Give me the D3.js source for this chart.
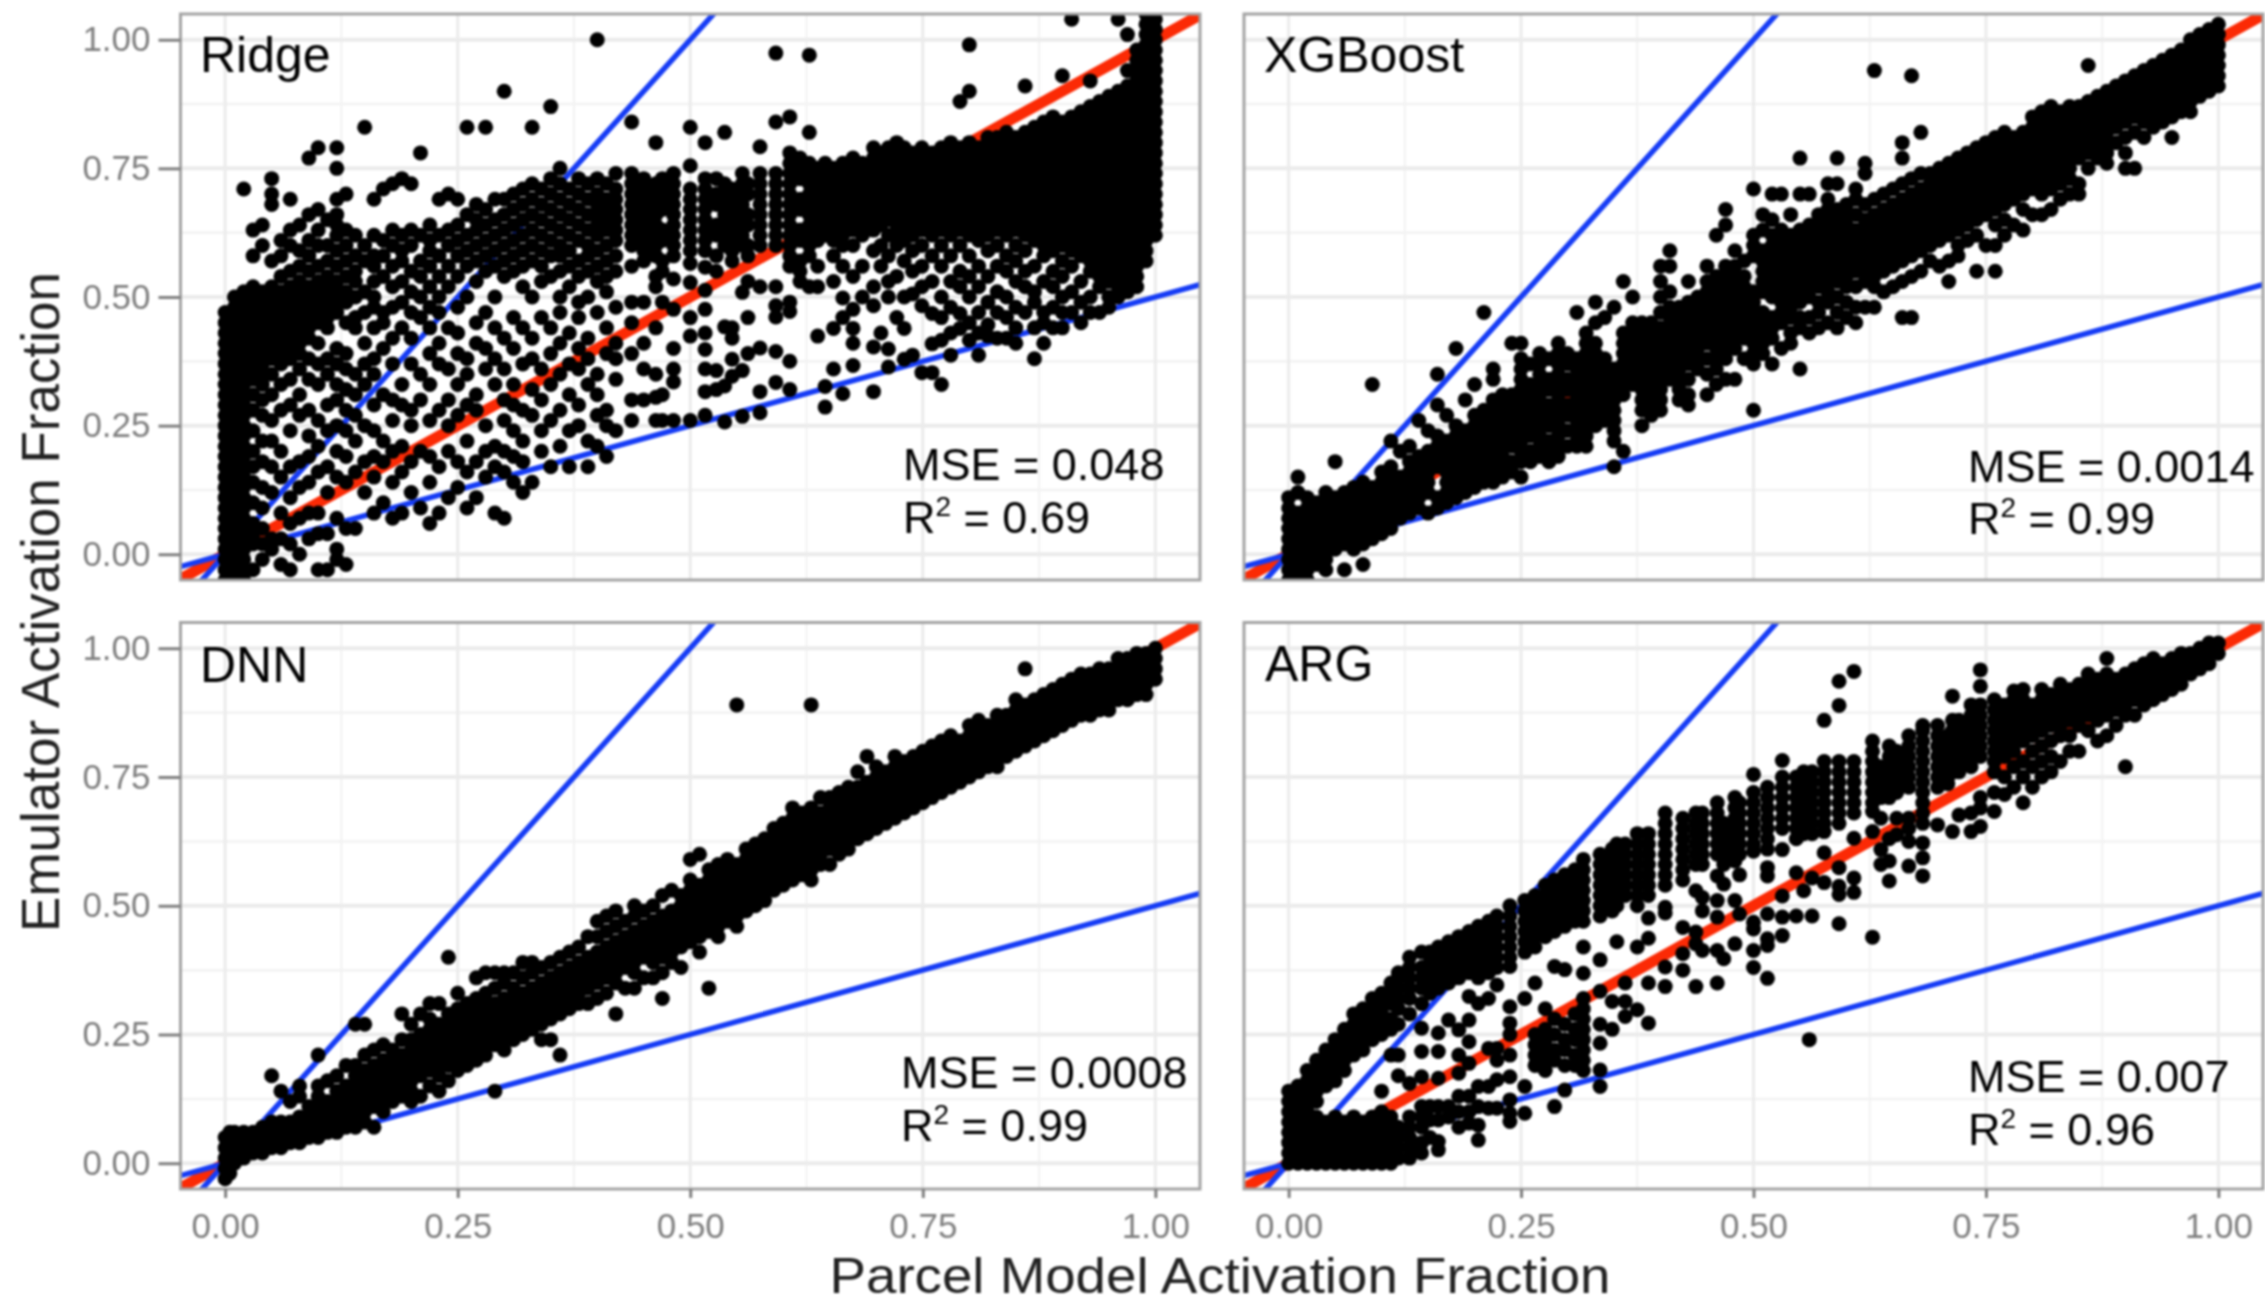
<!DOCTYPE html>
<html>
<head>
<meta charset="utf-8">
<script src="https://cdn.jsdelivr.net/npm/d3@7"></script>
<style>
  html, body { margin: 0; padding: 0; background: #fff; }
  svg { display: block; filter: blur(0.9px); }
  text { font-family: "Liberation Sans", Arial, sans-serif; }
</style>
</head>
<body>
<svg id="chart" width="2265" height="1304"></svg>
<script>
// values, each row is [x, y, y, y...] in hundredths of activation fraction
const ridgeCols = [
[0,-5,-3,-1,1,3,5,7,9,11,13,15,17,19,21,23,25,27,29,31,33,35,37,39,41,43,45,47],
[1,-4,-2,0,2,4,6,8,10,12,14,16,18,20,22,24,26,28,30,32,34,36,38,40,42,44,46,48,50],
[2,-5,-3,-1,1,3,5,7,9,11,13,15,17,19,21,23,25,27,29,31,33,35,37,39,41,43,45,47,49,51,71],
[3,-3,2,4,6,10,14,17,20,24,28,31,34,36,38,40,42,44,46,48,50,52,63,58],
[4,-1,2,5,9,13,18,22,27,30,33,35,37,39,41,43,45,47,49,51,60,64],
[5,1,3,12,17,22,26,31,35,38,40,42,44,46,48,50,52,57,73,70,68],
[6,-2,3,8,15,20,28,33,37,39,41,43,45,47,49,51,54,58,61],
[7,-3,2,6,11,17,24,29,34,38,40,42,44,46,48,50,52,55,60,63,69],
[8,0,7,13,18,27,31,36,39,41,43,45,47,49,51,53,56,59,64],
[9,3,8,14,19,23,28,34,38,42,44,46,48,50,52,55,58,61,66,77],
[10,-3,4,8,16,21,26,33,37,41,45,47,49,51,53,56,60,63,67,79],
[11,-3,4,12,17,24,29,35,38,44,46,48,50,52,54,57,60,65],
[12,-1,1,7,15,20,25,30,33,37,40,47,49,51,53,56,59,62,64,66,69,75,79],
[13,-2,5,14,19,24,28,32,36,39,45,49,51,54,57,60,63,70],
[14,5,16,22,27,31,35,44,46,50,53,55,58,62],
[15,12,18,25,33,37,41,47,51,57,60,83],
[16,8,15,19,24,29,35,38,44,48,50,53,56,58,62,69],
[17,10,18,22,31,40,45,47,54,58,61,71],
[18,7,14,20,26,30,37,42,48,52,56,60,63,72],
[19,8,16,21,29,33,44,49,53,57,59,62,73],
[20,12,18,25,28,37,42,47,51,55,60,63,72],
[21,9,20,30,35,46,50,54,57,62,78],
[22,6,14,19,26,33,39,44,48,52,56,59,61,64],
[23,8,17,28,37,41,47,50,54,58,62,69],
[24,11,20,25,30,36,44,52,56,60,63,70],
[25,13,18,27,33,39,43,48,54,58,61,64,69],
[26,9,16,22,29,35,38,50,56,59,62,66,83],
[27,11,18,28,31,41,45,53,57,60,63,65,68],
[28,15,20,25,36,40,47,55,58,61,64,67,83],
[29,8,17,21,33,38,44,50,56,59,62,65,69],
[30,7,16,20,26,30,36,42,54,57,60,63,66,69,90],
[31,14,19,24,29,33,40,46,55,58,61,64,67,70],
[32,12,18,22,28,37,44,52,56,59,62,65,68,71],
[33,14,27,32,38,42,50,57,60,63,66,69,72,83],
[34,20,24,30,36,46,53,56,59,62,65,68,71],
[35,17,26,33,39,44,54,58,61,64,67,70,73,87],
[36,21,28,35,41,47,50,55,58,60,63,66,69,72,75],
[37,17,24,31,37,43,52,56,59,62,65,68,71],
[38,25,29,36,40,46,49,54,57,61,64,67,70,73],
[39,17,22,33,38,42,50,55,58,60,63,66,69,72],
[40,21,27,31,35,47,53,56,59,62,64,66,68,70,73,100],
[41,19,25,28,39,44,51,54,57,60,63,65,67,69,72],
[42,24,34,38,41,48,55,58,61,63,65,67,69,71,74],
[43.7,26,30,39,45,49,56,60,62,64,66,68,70,72,74,84],
[45,30,36,41,49,57,59,61,63,65,67,69,71,73],
[46.3,26,30.5,35,44,52,54,58,60,62,64,66,68,70,72,80],
[47,26,31,49,55,57,61,63,67,69,71,73],
[48.2,26,33.5,36,40,47.6,53.5,58,60,62,64,66,68,70,72,74],
[50,26,42.4,46,52.8,56.5,59,61,63,65,67,69,71,75.5,83],
[51.6,27,31.6,36,39.8,43,47.6,51.3,55.8,59,61,63,65,67,69,71,73,80],
[52.8,32,35.7,55,58,62,64,68,70,73],
[53.7,25.7,32.7,44.2,60,62,64,66,68,70,72,82],
[54.5,34.6,37.9,42,44,57,59,61,63,65,67,69,71],
[55.6,26.8,35.7,50.9,60,62,64,66,68,70,72,74],
[56.2,39,46,53,58,60,64,66,70,72],
[57.5,27.5,31.6,40.1,52,60,62,64,66,68,70,72,74,79.2],
[59.2,33.4,39.4,46.1,48.3,52,60,62,64,66,68,70,72,74,84,97.4],
[60.7,32,37.5,47.2,49,56,58,60,62,64,66,68,70,72,74,76,78,85],
[61.8,53,55,57,61,63,67,69,73,75,77],
[62.8,52,58,60,62,64,66,68,70,72,74,76,82,97],
[63.7,42.4,52,56,61,63,65,67,69,71,73,75],
[64.5,28.6,32.6,62,64,66,68,70,72,74,76],
[65.4,36,43.9,53,58,61,63,65,67,69,71,73,75],
[66.4,31.2,46,49.8,56,60,62,64,66,68,70,72,74,76],
[67.5,36.7,41,43.9,47.6,54,60,63,65,67,69,71,73,75,77],
[68.5,50,56,62,64,66,68,70,72,74,76],
[69.7,31.6,40.3,48.3,52,59,63,65,67,69,71,73,75,77,79],
[70.5,43,56,60,64,66,68,70,72,74,76,78],
[71.3,36.4,39.9,50,53,58,62,65,67,69,71,73,75,77,79],
[72.2,46,54,60,62,64,66,68,70,72,74,76,78,80],
[73,37.9,43.9,50,57,61,63,65,67,69,71,73,75,77,79],
[73.9,38.7,50.6,55,59,62,64,66,68,70,72,74,76,78],
[74.9,35.3,48.3,52,56,60,63,65,67,69,71,73,75,77,79],
[76,35.3,40.9,46.8,53,58,62,64,66,68,70,72,74,76,78],
[77,33,41.6,46,50,56,60,63,65,67,69,71,73,75,77,79],
[78,38.7,43,48,53,58,62,64,66,68,70,72,74,76,78,80],
[79,43.9,46.8,52,55,60,63,65,67,69,71,73,75,77,79,88],
[80,41.6,45,50,54,58,62,64,66,68,70,72,74,76,78,80,90,99],
[81,38.7,43,47,52,56,61,63,65,67,69,71,73,75,77,79],
[82,42.4,44.6,49,54,59,62,64,66,68,70,72,74,76,78,80,81],
[83,42,47,51,56,60,63,65,67,69,71,73,75,77,79,81],
[84,42,46,50,55,58,62,64,66,68,70,72,74,76,78,80,82],
[85,41,44,48,53,57,60,63,65,67,69,71,73,75,77,79,81],
[86,47,52,55,59,62,64,66,68,70,72,74,76,78,80,82,91],
[87,38,44,49,51,56,61,63,65,67,69,71,73,75,77,79,81,83],
[88,41,45,47,53,58,60,62,64,66,68,70,72,74,76,78,80,82,84],
[89,44,48,52,55,59,61,63,65,67,69,71,73,75,77,79,81,83,85],
[90,44,47,50,54,57,60,62,64,66,68,70,72,74,76,78,80,82,84,93],
[91,47,51,56,59,61,63,65,67,69,71,73,75,77,79,81,83,85,104],
[92,45,49,53,58,60,62,64,66,68,70,72,74,76,78,80,82,84,86],
[93,47,50,55,57,59,61,63,65,67,69,71,73,75,77,79,81,83,85,87,92],
[94,47,52,54,56,58,60,62,64,66,68,70,72,74,76,78,80,82,84,86,88],
[95,48,50,53,55,57,59,61,63,65,67,69,71,73,75,77,79,81,83,85,87,89],
[96,50,52,54,56,58,60,62,64,66,68,70,72,74,76,78,80,82,84,86,88,90,104],
[97,51,53,55,57,59,61,63,65,67,69,71,73,75,77,79,81,83,85,87,89,91,94,101],
[98,52,54,56,58,60,62,64,66,68,70,72,74,76,78,80,82,84,86,88,90,92,94,96,98],
[99,57,59,61,63,65,67,69,71,73,75,77,79,81,83,85,87,89,91,93,95,97,99,101,103,105],
[100,62,64,66,68,70,72,74,76,78,80,82,84,86,88,90,92,94,96,98,100,102,104,106]
];

const xgboostCols = [
[0,-5,-3,-1,1,3,5,7,9,11],
[1,-4,-2,0,2,4,6,8,15,12],
[2,-5,-3,-1,1,3,5,7,9,11],
[3,-2,0,2,4,6,8,10],
[4,-3,-1,1,3,5,7,9,11,12],
[5,1,3,5,7,9,11,18],
[6,2,4,6,8,10,12,-3],
[7,1,3,5,7,9,11,13],
[8,2,4,6,8,10,12,14,-2],
[9,3,5,7,9,11,13,33],
[10,4,6,8,10,12,14,16],
[11,5,7,9,11,13,15,17,22],
[12,7,9,11,13,15,20],
[13,8,10,12,14,16,18,21],
[14,9,11,13,15,17,19,26],
[15,8,12,14,16,18,20,24],
[16,9,11,17,19,21,23,29,35],
[17,10,12,14,16,18,20,22,27],
[18,11,13,15,17,19,21,23,25,40],
[19,12,14,16,18,20,22,24,30],
[20,13,15,17,19,21,23,25,27,33],
[21,14,16,18,20,22,24,26,28,47],
[22,14,16,18,20,22,24,26,28,30,34,36],
[23,15,17,19,21,23,25,27,29,31],
[24,16,18,21,23,25,27,29,31,41],
[25,15,18,20,22,24,26,28,30,32,34,36,41,38],
[26,18,20,23,25,27,29,31,33,37],
[27,19,21,23,25,27,29,31,33,35,37,39],
[28,18,20,22,25,27,29,32,34,38],
[29,19,21,23,25,27,29,31,33,35,37,39,41],
[30,21,24,27,29,32,34,37,39],
[31,21,22,24,26,28,30,32,34,36,38,47],
[32,21,23,25,27,29,31,33,35,37,39,41,43],
[33,25,27,29,31,33,35,37,39,41,45,49],
[34,26,28,30,32,34,36,38,46],
[35,17,22,24,26,28,30,32,34,36,48],
[36,20,31,33,35,37,39,41,43,53],
[37,33,35,37,39,41,43,45,50],
[38,25,28,30,32,34,36,38,40,42,44,45],
[39,27,29,31,33,35,37,39,41,43,45],
[40,28,30,32,34,36,38,40,42,44,47,50,53,56],
[41,34,36,38,40,42,44,46,48,51,56,59],
[42,30,32,34,36,38,40,42,44,46,48],
[43,29,31,34,37,39,41,43,45,47,49,53],
[44,36,38,40,42,44,46,48,50],
[45,31,35,38,41,43,45,47,49,51,53,56],
[46,33,36,38,40,42,44,46,48,50,52,54,62],
[47,34,38,40,42,44,46,48,50,52,54,56,64,67],
[48,34,40,42,44,46,48,50,52,54,56,59],
[49,38,42,44,46,48,50,52,54,57],
[50,28,37,39,41,43,45,47,49,51,58,60,62,71],
[51,39,41,43,45,47,51,53,55,57,59,63,66],
[52,37,42,44,46,50,52,54,56,58,60,62,65,70],
[53,40,45,47,49,51,53,55,57,59,61,63,70],
[54,41,43,46,48,50,52,54,56,58,60,62,66],
[55,36,44,46,49,51,53,55,57,59,61,63,70,77],
[56,43,46,50,52,54,56,58,60,62,64,70],
[57,44,47,49,52,54,56,58,60,62,64,66],
[58,45,49,51,53,55,57,59,61,63,65,67,69,72],
[59,44,47,50,53,55,57,59,61,63,65,67,72,77],
[60,46,49,52,54,56,58,60,62,64,66,68],
[61,45,48,52,55,57,59,61,63,66,69,71],
[62,48,53,55,57,59,61,63,65,68,76,74],
[63,48,52,54,56,58,60,62,64,66,69,94],
[64,51,55,57,59,61,63,65,67,70],
[65,52,56,58,60,62,64,66,68,71],
[66,46,53,57,59,61,63,65,67,69,72,77,80],
[67,46,54,58,60,62,64,66,68,70,73,93],
[68,55,59,61,63,65,67,69,71,74,82],
[69,57,60,62,64,66,68,70,72,74],
[70,56,61,63,65,67,69,71,73,75],
[71,53,57,62,64,66,68,70,72,74,76],
[72,58,60,63,65,67,69,71,73,75,77],
[73,61,64,66,68,70,72,74,76,78],
[74,55,62,65,67,69,71,73,75,77,79],
[75,60,66,68,70,72,74,76,78,80],
[76,55,60,64,67,69,71,73,75,77,79,81],
[77,62,65,68,70,72,74,76,78,80,82],
[78,64,69,71,73,75,77,79,81],
[79,63,67,70,72,74,76,78,80,82],
[80,66,71,73,75,77,79,81,83,85],
[81,66,70,72,74,76,78,80,82,84,86],
[82,67,71,73,75,77,79,81,83,85,87],
[83,69,72,74,76,78,80,82,84,86],
[84,70,73,75,77,79,81,83,85,87],
[85,70,72,77,79,81,83,85,87],
[86,75,78,80,82,84,86,88,95],
[87,77,79,81,83,85,87,89],
[88,76,78,80,82,84,86,88,90],
[89,80,83,85,87,89,91],
[90,75,78,81,84,86,88,90,92],
[91,75,82,85,87,89,91,93],
[92,81,84,86,88,90,92,94],
[93,83,85,87,89,91,93,95],
[94,84,86,88,90,92,94,96],
[95,81,85,87,89,91,93,95,97],
[96,86,88,90,92,94,96,98],
[97,86,88,90,92,94,96,98,100],
[98,89,91,93,95,97,99,101],
[99,90,92,94,96,98,100,102],
[100,91,93,95,97,99,101,103]
];

const dnnCols = [
[0,-3,-1,1,3,5],
[0.5,-2,0,2,4,6],
[1,0,2,4,6],
[2,1,3,5,6],
[3,2,4,6],
[4,2,4,6,7],
[5,3,5,7,8,17],
[6,3,5,7,8,14],
[7,4,6,8,12],
[8,4,6,8,9,13,15],
[9,5,7,9,11],
[10,5,7,9,11,13,15,21],
[11,6,8,10,12,16],
[12,6,8,10,12,14,17],
[13,7,9,11,13,15,19],
[14,7,9,11,13,15,17,19,27],
[15,8,10,12,14,16,18,21,27],
[16,7,11,13,15,17,19,22],
[17,10,12,14,16,18,20,23],
[18,12,14,16,18,20,22],
[19,13,15,17,19,21,24,29],
[20,12,14,16,18,20,22,24,27],
[21,13,17,19,21,23,25,29],
[22,15,18,20,22,24,26,28,31],
[23,14,17,19,21,23,25,27,31],
[24,16,19,21,23,25,27,29,40],
[25,18,20,22,24,26,28,30,33],
[26,19,21,23,25,27,29,31],
[27,20,22,24,26,28,30,32,36],
[28,21,23,25,27,29,31,33,37],
[29,14,23,25,27,29,31,34,37],
[30,22,24,26,28,30,32,35,37],
[31,24,26,28,30,32,34,37],
[32,25,27,29,31,33,36,39],
[33,26,28,30,32,34,37,39],
[34,24,27,29,31,33,35,38],
[35,24,28,30,32,34,36,39],
[36,21,29,31,33,35,37,40],
[37,30,32,34,36,38,41],
[38,31,33,35,37,39,42],
[39,31,34,36,38,40,44],
[40,32,35,37,39,41,44,47],
[41,33,36,38,40,42,45,48],
[42,29,35,37,39,41,43,46,49],
[43,34,38,40,42,44,47],
[44,34,37,39,41,43,45,48,50],
[45,36,40,42,44,46,49],
[46,36,39,41,43,45,47,50],
[47,32,37,40,42,44,46,48,52],
[48,39,41,43,45,47,49,53],
[49,38,42,44,46,48,50,52],
[50,43,45,47,49,51,53,55,59],
[51,41,44,46,48,50,52,54,60],
[52,34,45,47,49,51,53,55,57],
[53,44,46,48,50,52,54,56,58],
[54,47,49,51,53,55,57,59],
[55,46,48,50,52,54,56,58,89],
[56,49,51,53,55,57,59,61],
[57,50,52,54,56,58,60,62],
[58,51,53,55,57,59,61,63],
[59,53,55,57,59,61,63,65],
[60,54,56,58,60,62,64,66],
[61,55,57,59,61,63,65,67,69],
[62,56,58,60,62,64,66,68],
[63,55,57,59,61,63,65,67,69,89],
[64,58,60,62,64,66,68,71],
[65,58,61,63,65,67,69,71],
[66,60,62,64,66,68,70,72],
[67,61,63,65,67,69,71,73],
[68,63,65,67,69,71,73,76],
[69,64,66,68,70,72,74,79],
[70,65,67,69,71,73,75,77],
[71,66,68,70,72,74,76],
[72,67,69,71,73,75,77,79],
[73,68,70,72,74,76,78],
[74,69,71,73,75,77,79],
[75,70,72,74,76,78,80],
[76,71,73,75,77,79,81],
[77,72,74,76,78,80,82],
[78,73,75,77,79,81,83],
[79,74,76,78,80,82],
[80,75,77,79,81,83,85],
[81,76,78,80,82,84,86],
[82,77,79,81,83,85],
[83,77,79,81,83,85,87],
[84,79,81,83,85,87],
[85,80,82,84,86,88,90],
[86,81,83,85,87,89,96],
[87,82,84,86,88,90],
[88,83,85,87,89,91],
[89,84,86,88,90,92],
[90,85,87,89,91,93],
[91,86,88,90,92,94],
[92,87,89,91,93,95],
[93,87,89,91,93,95],
[94,88,90,92,94,96],
[95,88,90,92,94,96],
[96,90,92,94,96,98],
[97,90,92,94,96,98],
[98,91,93,95,97,99],
[99,91,93,95,97,99],
[100,94,96,98,100]
];

const argCols = [
[0,0,2,4,6,8,10,12,14],
[1,0,1,3,5,7,9,11,13,15],
[2,0,2,4,6,8,10,12,14,16,18],
[3,0,1,3,5,7,9,12,14,16,18,20],
[4,0,2,4,6,8,15,17,19,21,22],
[5,0,1,3,5,7,9,16,18,20,22,24],
[6,0,2,4,6,8,18,20,22,24,26],
[7,0,1,3,5,7,9,21,23,25,27,29],
[8,0,2,4,6,8,22,24,26,28,30],
[9,0,1,3,5,7,9,24,26,28,30,32],
[10,0,2,4,6,8,10,14,25,27,29,31,33],
[11,0,1,3,5,7,9,21,26,28,31,33,35],
[11.8,1,3,5,7,17,21,27,30,32,34,36,37],
[13,1,3,5,7,9,15.5,29,32,34,36,38,40],
[14.3,2,4,7,9,11,16.8,21.7,26.2,31,34,36,38,41],
[15.2,5,8.4,11,33,35,37,39,41],
[16.1,2.6,4.2,8.4,11,16.5,21.7,25.3,34,36,38,40,42],
[17.2,9,11,27.8,35,37,39,41,43],
[18.3,7,10,13,17.5,21,25.9,36,38,40,42,44],
[19.4,7.8,10,13,19.4,23.6,27.8,32.4,37,39,41,43,45],
[20.4,4.5,7.4,11,14.9,31,36,38,40,42,44,46],
[21.5,10.7,14.9,22.3,32,37,39,41,43,45,47],
[22.4,10.7,16.2,20,22.3,34.6,38,40,42,44,46,48],
[23.8,8.1,9.7,12.3,16.8,21,25,27.2,30.4,38.2,40,42,44,46,48,50],
[25.4,9.7,14.9,32,41,43,45,47,49,51],
[26.5,19,21,23,25,35,42,44,46,48,50,52],
[27.6,18,20,22,24,26,30,44,46,48,50,52,54],
[28.6,11,20,22,25,28,38.2,45,47,49,51,53,55],
[29.7,14.2,19,22,24,27,37.6,46,48,50,52,54,56],
[30.8,19,21,24,26,29,47,49,51,53,55,57],
[31.7,18,20,22,24,26,28,30,32,36.9,42,47,49,51,53,55,57,59],
[33.5,14.9,18.1,23.3,27,33.4,39.5,48,50,52,54,56,58,60],
[34.8,26,31.4,49,51,53,55,57,59,61],
[35.3,43,50,52,54,56,58,60,62],
[36.2,28.5,31.4,35,52,54,56,58,60,62],
[37.5,29.8,42,50,52,54,56,58,60,62,64],
[38.7,27.2,35,43.7,47.6,52,54,56,58,60,62,64],
[40.5,34.3,38.1,48.6,49.7,54,56,58,60,62,64,66,68],
[42.4,37.5,40.7,45.8,55,57,59,61,63,65,67],
[43.8,34.3,42.6,44.9,52.9,58,60,62,64,66,68],
[44.5,41.3,49,51.6,58,60,62,64,66,68],
[46.1,35,41.3,47.8,51,55.8,60,62,64,66,68,70],
[46.8,39.7,54.2,58,60,62,64,66],
[48,42.6,51,58.7,61,63,65,67,69,71],
[48.5,48.4,56,60,62,64,66,68,70],
[50,38,41.3,45.5,46.8,60.6,62,64,66,68,70,72,75.5],
[51.5,35.9,42.3,43.6,48.4,55.8,57.4,61,63,65,67,69,71,73],
[53.1,44.2,47.8,51.9,60.9,65,67,69,71,73,75,78.2],
[54.6,48,56.4,63,65,67,69,71,73,75],
[55.4,52.9,64,66,68,70,72,74,76],
[56.3,48,55.4,64,66,68,70,72,74,76],
[57.6,54.5,60.3,64.4,66,68,70,72,74,76,78,86],
[59.2,46.5,52.2,53.8,57.4,66,68,70,72,74,76,78,88.9,93.6],
[60.8,52.6,55.4,63.1,68,70,72,74,76,78,95.5],
[62.8,43.9,64.4,68.3,70,72,74,76,78,80,82],
[63.7,58,60.9,67,71,73,75,77],
[64.6,54.8,58.7,63,71,73,75,77,79,81],
[65.4,63.8,67,72,74,76,78,80],
[66.7,57.7,62.5,65,67,73,75,77,79,81,83],
[68.2,55.8,59.3,62.2,66,68,70,72,74,76,78,80,82,84,85],
[69.8,65.7,73,75,77,79,81,83,85],
[70.9,73.7,75,77,79,81,83],
[71.4,64.4,76,78,80,82,84,86,90.7],
[72.1,67.6,76,78,80,82,84,86],
[73.4,64.4,68,77,79,81,83,85,87,89],
[74.4,65.4,69,71,79,81,83,85,87,89,92.6,95.8],
[75.9,68.3,72,76,78,80,82,84,86,88,90],
[77,71.6,75,79,81,83,85,87,89],
[78,73,77,80,82,84,86,88,90,91.7],
[79,70,75,78,82,84,86,88,90,92],
[80,73,77,80,83,85,87,89],
[81,75,78,81,84,86,88,90,92],
[82,76,79,82,85,87,89,91],
[83,78,83,85,87,89,91,93],
[84,80,83,86,88,90,92],
[85,80,85,87,89,91,93],
[86,84,87,89,91,93,95],
[87,82,86,88,90,92,94],
[88,83,87,89,91,93,95,98],
[89,85,88,90,92,94],
[90,77,87,89,91,93,95],
[91,87,90,92,94,96],
[92,89,91,93,95,97],
[93,90,92,94,96,98],
[94,91,93,95,97],
[95,92,94,96,98],
[96,93,95,97,99],
[97,95,97,99],
[98,96,98,100],
[99,97,99,101],
[100,99,101],
[56,24]
];

const panelNames = ["Ridge", "XGBoost", "DNN", "ARG"];
const panelCols = [ridgeCols, xgboostCols, dnnCols, argCols];
const mseLabels = ["MSE = 0.048", "MSE = 0.0014", "MSE = 0.0008", "MSE = 0.007"];
const r2Labels = ["0.69", "0.99", "0.99", "0.96"];
const tickVals = [0, 0.25, 0.5, 0.75, 1];
const minorVals = [0.125, 0.375, 0.625, 0.875];
const refSlopes = [1, 2, 0.5];
const refColors = ["#fb2a05", "#163cf5", "#163cf5"];
const refWidths = [11, 5.5, 5.5];

// panel boxes in page pixels, [left, right, top, bottom]
const boxes = [
  [180.5, 1200, 14, 580],
  [1244, 2263, 14, 580],
  [180.5, 1200, 622.5, 1189],
  [1244, 2263, 622.5, 1189]
];
// where the MSE and R2 texts sit: [x, mse baseline, r2 baseline, title baseline, title x]
const labelPos = [
  [903, 480, 533, 72, 200],
  [1968, 482, 534, 72, 1264],
  [901, 1088, 1141, 682, 200],
  [1968, 1092, 1145, 681, 1265]
];

const xDomain = [-0.048, 1.048];
const yDomain = [-0.05, 1.05];

const svg = d3.select("#chart");

panelNames.forEach(function(name, i) {
  const b = boxes[i];
  const x = d3.scaleLinear().domain(xDomain).range([b[0], b[1]]);
  const y = d3.scaleLinear().domain(yDomain).range([b[3], b[2]]);

  const points = panelCols[i].flatMap(c => c.slice(1).map(v => ({ x: c[0] / 100, y: v / 100 })));

  svg.append("clipPath").attr("id", "clip" + i).append("rect")
    .attr("x", b[0]).attr("y", b[2]).attr("width", b[1] - b[0]).attr("height", b[3] - b[2]);

  const g = svg.append("g");
  const inner = g.append("g").attr("clip-path", "url(#clip" + i + ")");

  // grid
  inner.selectAll(".minx").data(minorVals).join("line")
    .attr("x1", d => x(d)).attr("x2", d => x(d)).attr("y1", b[2]).attr("y2", b[3])
    .attr("stroke", "#f2f2f2").attr("stroke-width", 2);
  inner.selectAll(".miny").data(minorVals).join("line")
    .attr("x1", b[0]).attr("x2", b[1]).attr("y1", d => y(d)).attr("y2", d => y(d))
    .attr("stroke", "#f2f2f2").attr("stroke-width", 2.5);
  inner.selectAll(".majx").data(tickVals).join("line")
    .attr("x1", d => x(d)).attr("x2", d => x(d)).attr("y1", b[2]).attr("y2", b[3])
    .attr("stroke", "#ebebeb").attr("stroke-width", 3);
  inner.selectAll(".majy").data(tickVals).join("line")
    .attr("x1", b[0]).attr("x2", b[1]).attr("y1", d => y(d)).attr("y2", d => y(d))
    .attr("stroke", "#ebebeb").attr("stroke-width", 4);

  // reference lines y = x, y = 2x, y = x/2
  refSlopes.forEach(function(s, k) {
    const line = d3.line().x(d => x(d)).y(d => y(d * s));
    inner.append("path").datum(xDomain)
      .attr("d", line).attr("fill", "none")
      .attr("stroke", refColors[k]).attr("stroke-width", refWidths[k]);
  });

  inner.selectAll("circle").data(points).join("circle")
    .attr("cx", d => x(d.x)).attr("cy", d => y(d.y)).attr("r", 7.5).attr("fill", "#000");

  g.append("rect").attr("x", b[0]).attr("y", b[2]).attr("width", b[1] - b[0]).attr("height", b[3] - b[2])
    .attr("fill", "none").attr("stroke", "#a3a3a3").attr("stroke-width", 3);

  // axes only on the outer sides
  if (i % 2 === 0) {
    const ax = g.append("g").attr("transform", "translate(" + b[0] + ",0)")
      .call(d3.axisLeft(y).tickValues(tickVals).tickFormat(d3.format(".2f")).tickSize(22).tickPadding(8));
    ax.select(".domain").remove();
    ax.selectAll("line").attr("stroke", "#7f7f7f").attr("stroke-width", 3);
    ax.selectAll("text").attr("fill", "#7f7f7f").attr("font-size", 35).attr("font-family", "Liberation Sans");
  }
  if (i >= 2) {
    const ax = g.append("g").attr("transform", "translate(0," + b[3] + ")")
      .call(d3.axisBottom(x).tickValues(tickVals).tickFormat(d3.format(".2f")).tickSize(9).tickPadding(15));
    ax.select(".domain").remove();
    ax.selectAll("line").attr("stroke", "#7f7f7f").attr("stroke-width", 3);
    ax.selectAll("text").attr("fill", "#7f7f7f").attr("font-size", 35).attr("font-family", "Liberation Sans");
  }

  const lp = labelPos[i];
  g.append("text").attr("x", lp[4]).attr("y", lp[3]).attr("font-size", 50).attr("fill", "#000").text(name);
  g.append("text").attr("x", lp[0]).attr("y", lp[1]).attr("font-size", 45).attr("fill", "#000").text(mseLabels[i]);
  const r2 = g.append("text").attr("x", lp[0]).attr("y", lp[2]).attr("font-size", 45).attr("fill", "#000");
  r2.append("tspan").text("R");
  r2.append("tspan").attr("font-size", 28).attr("dy", -17).text("2");
  r2.append("tspan").attr("dy", 17).text(" = " + r2Labels[i]);
});

svg.append("text").attr("x", 1220).attr("y", 1293).attr("text-anchor", "middle")
  .attr("font-size", 50).attr("fill", "#222")
  .attr("textLength", 781).attr("lengthAdjust", "spacingAndGlyphs")
  .text("Parcel Model Activation Fraction");

svg.append("text").attr("transform", "translate(59,602) rotate(-90)").attr("text-anchor", "middle")
  .attr("font-size", 53).attr("fill", "#222")
  .text("Emulator Activation Fraction");
</script>
</body>
</html>
